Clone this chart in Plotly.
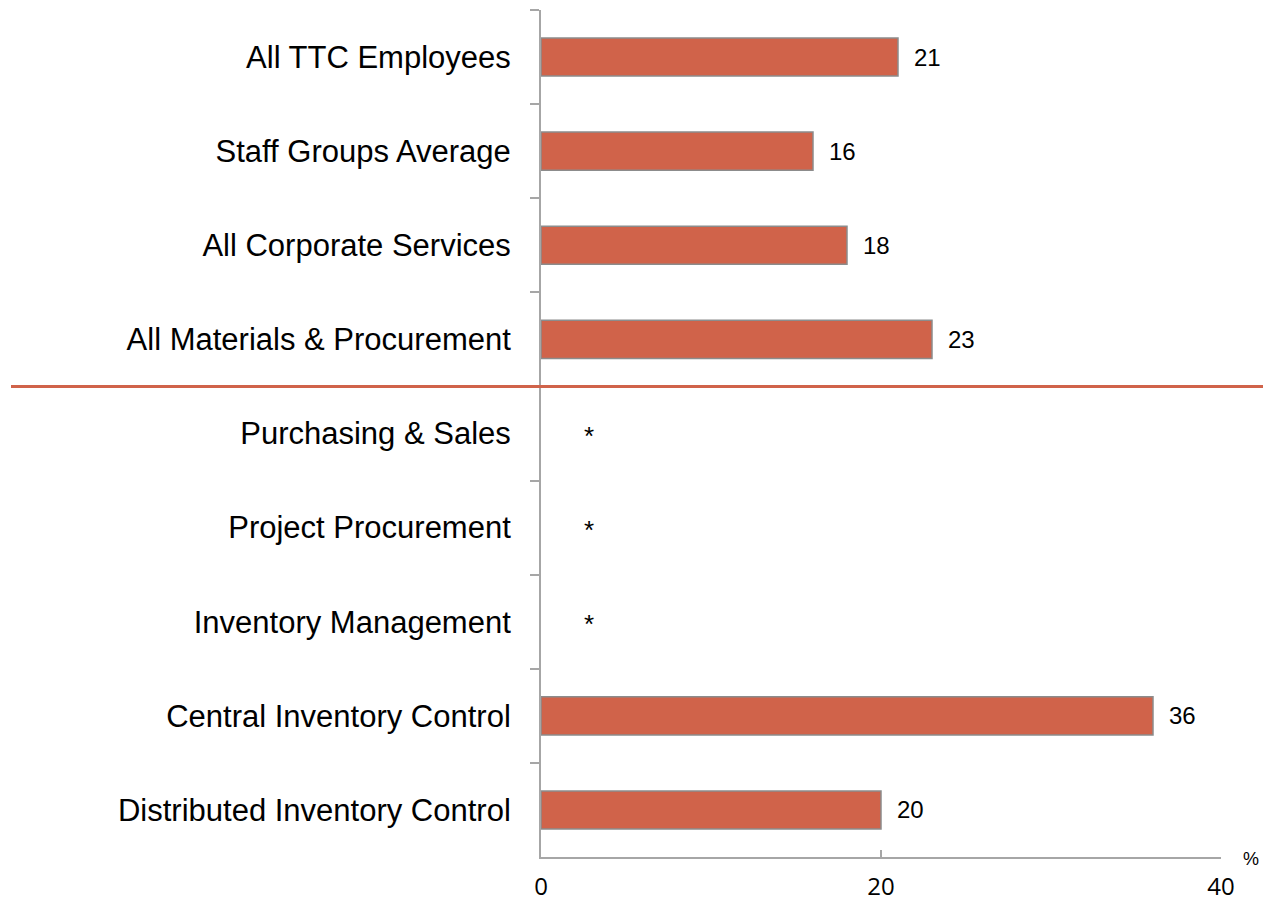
import plotly.graph_objects as go

categories = [
    "All TTC Employees",
    "Staff Groups Average",
    "All Corporate Services",
    "All Materials & Procurement",
    "Purchasing & Sales",
    "Project Procurement",
    "Inventory Management",
    "Central Inventory Control",
    "Distributed Inventory Control",
]
values = [21, 16, 18, 23, None, None, None, 36, 20]
value_labels = ["21", "16", "18", "23", "*", "*", "*", "36", "20"]
x_ticks = [0, 20, 40]
separator_after = 3.5  # line between summary groups and sub-units

BAR_COLOR = "#D0634A"
AXIS_COLOR = "#A6A6A6"
FONT = "Liberation Sans, Arial"

# plot area should be x 541..1221, y 10..857 (body margin removed via post_script)
W, H = 1263, 901
L, R, T, B = 541, W - 1221, 10, H - 857
PW, PH = 1221 - 541, 857 - 10

fig = go.Figure()
fig.add_trace(go.Bar(
    y=categories,
    x=values,
    orientation="h",
    width=0.405,
    marker=dict(color=BAR_COLOR, line=dict(color="#8C8C8C", width=1.5)),
    hoverinfo="skip",
))

annotations = []
for cat, v, lab in zip(categories, values, value_labels):
    if v is None:
        annotations.append(dict(x=2.8, y=cat, xref="x", yref="y", text=lab,
                                showarrow=False, yshift=-2,
                                font=dict(family=FONT, size=26, color="#000")))
    else:
        annotations.append(dict(x=v, y=cat, xref="x", yref="y", text=lab,
                                showarrow=False, xanchor="left", xshift=14,
                                font=dict(family=FONT, size=24, color="#000")))
annotations.append(dict(x=(1251 - 541) / PW, y=(857 - 859) / PH, xref="paper", yref="paper",
                        xanchor="center", yanchor="middle",
                        text="%", showarrow=False,
                        font=dict(family=FONT, size=18, color="#000")))

fig.update_layout(
    width=W, height=H,
    margin=dict(l=L, r=R, t=T, b=B, pad=0),
    paper_bgcolor="white", plot_bgcolor="white",
    showlegend=False,
    annotations=annotations,
    shapes=[dict(type="line", xref="paper", yref="y",
                 x0=(11 - 541) / PW, x1=(1263 - 541) / PW,
                 y0=separator_after, y1=separator_after,
                 line=dict(color=BAR_COLOR, width=3))],
)

fig.update_yaxes(
    type="category",
    categoryorder="array", categoryarray=categories,
    range=[8.5, -0.5],
    automargin=False,
    showline=True, linecolor=AXIS_COLOR, linewidth=2,
    ticks="outside", ticklen=9, tickwidth=1.5, tickcolor=AXIS_COLOR,
    tickson="boundaries",
    ticklabelstandoff=22,
    tickfont=dict(family=FONT, size=31, color="#000"),
    showgrid=False, zeroline=False,
)
fig.update_xaxes(
    range=[0, 40],
    tickvals=x_ticks,
    automargin=False,
    showline=True, linecolor=AXIS_COLOR, linewidth=2,
    ticks="inside", ticklen=7, tickwidth=1.5, tickcolor=AXIS_COLOR,
    ticklabelstandoff=7,
    tickfont=dict(family="Open Sans, Liberation Sans", size=24, color="#000"),
    showgrid=False, zeroline=False,
)

fig.write_html(
    "out.html",
    config={"displayModeBar": False},
    post_script="document.body.style.margin='0px';document.documentElement.style.overflow='hidden';",
)
